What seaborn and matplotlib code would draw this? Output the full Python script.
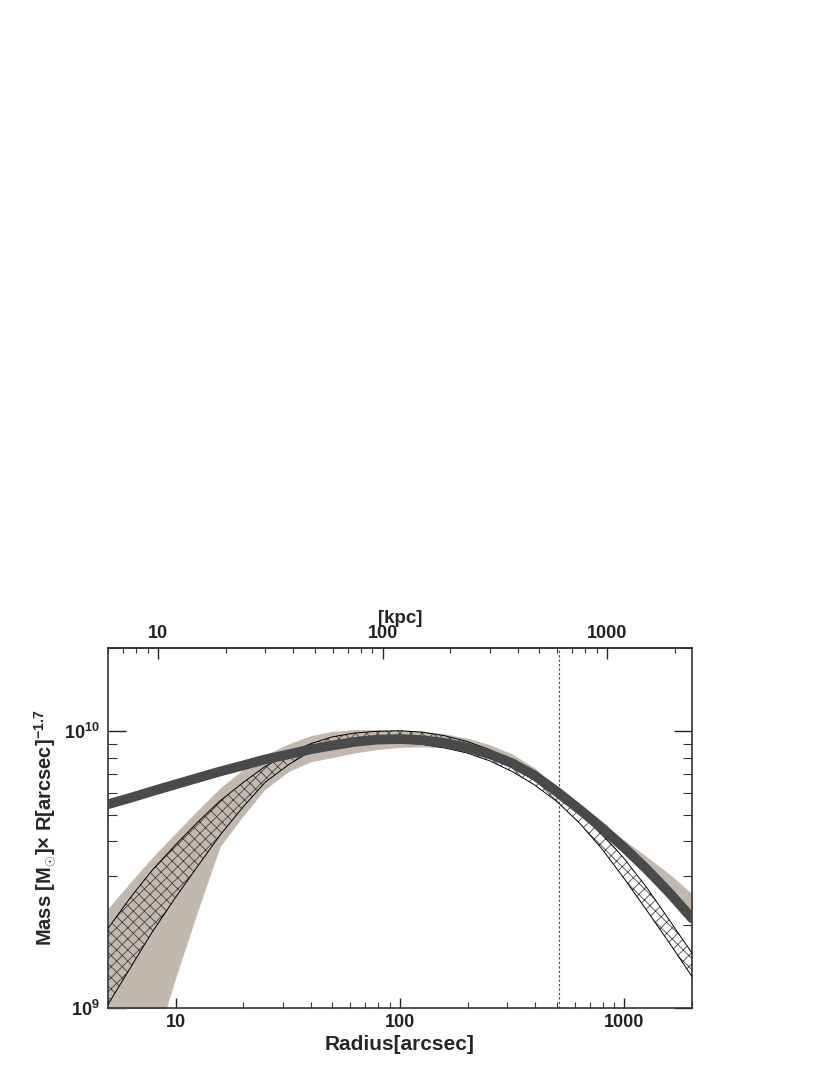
import numpy as np
import pandas as pd
import matplotlib
matplotlib.use("Agg")
import matplotlib.pyplot as plt
from matplotlib.ticker import FixedLocator, LogLocator, NullFormatter, FuncFormatter
import seaborn as sns

# ---------------- data ----------------
radius = [5, 6.3, 7.9, 10, 12.6, 15.8, 20, 25, 32, 40, 50, 63, 79, 100, 126, 158, 200,
          251, 316, 398, 501, 631, 794, 1000, 1259, 1585, 2000]
model = [5.45e9, 5.75e9, 6.08e9, 6.43e9, 6.79e9, 7.16e9, 7.53e9, 7.91e9, 8.26e9, 8.61e9,
         8.89e9, 9.16e9, 9.33e9, 9.38e9, 9.29e9, 9.08e9, 8.73e9, 8.26e9, 7.67e9, 6.92e9,
         6.05e9, 5.22e9, 4.48e9, 3.79e9, 3.17e9, 2.61e9, 2.11e9]
band_hi = [2.29e9, 2.85e9, 3.51e9, 4.29e9, 5.20e9, 6.24e9, 7.28e9, 8.22e9, 9.02e9, 9.64e9,
           1.0e10, 1.014e10, 1.014e10, 1.009e10, 1.0e10, 9.79e9, 9.44e9, 8.95e9, 8.28e9,
           7.38e9, 6.24e9, 5.37e9, 4.65e9, 4.04e9, 3.52e9, 3.05e9, 2.59e9]
band_lo = [2.24e8, 3.98e8, 6.92e8, 1.28e9, 2.26e9, 3.83e9, 4.94e9, 6.17e9, 7.16e9, 7.76e9,
           8.04e9, 8.36e9, 8.59e9, 8.75e9, 8.79e9, 8.71e9, 8.47e9, 8.04e9, 7.41e9, 6.65e9,
           5.70e9, 4.99e9, 4.31e9, 3.65e9, 3.14e9, 2.69e9, 2.21e9]
hatch_hi = [1.94e9, 2.51e9, 3.16e9, 3.89e9, 4.71e9, 5.61e9, 6.53e9, 7.45e9, 8.32e9, 9.02e9,
            9.55e9, 9.86e9, 1.0e10, 1.005e10, 9.93e9, 9.64e9, 9.18e9, 8.59e9, 7.82e9, 6.87e9,
            5.86e9, 5.05e9, 4.26e9, 3.46e9, 2.72e9, 2.08e9, 1.58e9]
hatch_lo = [1.03e9, 1.40e9, 1.89e9, 2.51e9, 3.27e9, 4.22e9, 5.33e9, 6.53e9, 7.59e9, 8.47e9,
            8.91e9, 9.10e9, 9.16e9, 9.12e9, 8.97e9, 8.71e9, 8.34e9, 7.82e9, 7.16e9, 6.40e9,
            5.57e9, 4.66e9, 3.76e9, 2.93e9, 2.25e9, 1.72e9, 1.30e9]
x_ticks = [10, 100, 1000]
kpc_ticks = [10, 100, 1000]
y_ticks = [1e9, 1e10]
kpc_per_arcsec = 1.195
r_marker = 512

df = pd.DataFrame({"radius": radius, "model": model, "hatch_hi": hatch_hi, "hatch_lo": hatch_lo})

# ---------------- style ----------------
sns.set_theme(style="white")
plt.rcParams["font.family"] = ["Liberation Sans", "DejaVu Sans"]
plt.rcParams["font.weight"] = "bold"
plt.rcParams["mathtext.fontset"] = "custom"
plt.rcParams["mathtext.rm"] = "Liberation Sans:bold"
plt.rcParams["mathtext.it"] = "Liberation Sans:bold"
plt.rcParams["mathtext.bf"] = "Liberation Sans:bold"
plt.rcParams["hatch.linewidth"] = 0.55
plt.rcParams["axes.edgecolor"] = "#333333"
plt.rcParams["axes.linewidth"] = 1.2

fig = plt.figure(figsize=(8.3, 10.75), dpi=100)
ax = fig.add_axes([0.1301, 0.0623, 0.7036, 0.3349])
ax.set_xscale("log")
ax.set_yscale("log")

tan = "#c2b8ad"
ax.fill_between(radius, band_lo, band_hi, color=tan, linewidth=0, zorder=1)
ax.fill_between(radius, hatch_lo, hatch_hi, facecolor="none", edgecolor="#3a3a3a",
                hatch="xxx", linewidth=0, zorder=2)
sns.lineplot(data=df, x="radius", y="hatch_hi", color="black", linewidth=0.7, ax=ax, zorder=3)
sns.lineplot(data=df, x="radius", y="hatch_lo", color="black", linewidth=0.7, ax=ax, zorder=3)
sns.lineplot(data=df, x="radius", y="model", color="#4a4a4a", linewidth=7,
             solid_joinstyle="round", ax=ax, zorder=4)
ax.axvline(r_marker, color="#444444", linewidth=0.8, linestyle=(0, (2, 2)), zorder=5)

ax.set_xlim(5, 2000)
ax.set_ylim(1e9, 2e10)

# x (arcsec) axis
ax.xaxis.set_major_locator(FixedLocator(x_ticks))
ax.xaxis.set_major_formatter(FuncFormatter(lambda v, p: f"{v:g}"))
ax.xaxis.set_minor_locator(LogLocator(base=10, subs=np.arange(2, 10)))
ax.xaxis.set_minor_formatter(NullFormatter())
ax.tick_params(axis="x", which="major", direction="in", length=7.2, width=1.0,
               bottom=True, top=False, labelsize=13, pad=4, colors="#222222")
ax.tick_params(axis="x", which="minor", direction="in", length=4.3, width=0.8,
               bottom=True, top=False, colors="#333333")

# y axis
ax.yaxis.set_major_locator(FixedLocator(y_ticks))
ax.yaxis.set_major_formatter(FuncFormatter(lambda v, p: r"$10^{%d}$" % round(np.log10(v))))
ax.yaxis.set_minor_locator(LogLocator(base=10, subs=np.arange(2, 10)))
ax.yaxis.set_minor_formatter(NullFormatter())
ax.tick_params(axis="y", which="major", direction="in", length=13, width=1.0,
               left=True, right=True, labelsize=13, pad=6, colors="#222222")
ax.tick_params(axis="y", which="minor", direction="in", length=6.5, width=0.8,
               left=True, right=True, colors="#333333")

# top (kpc) axis
secax = ax.secondary_xaxis("top", functions=(lambda x: x * kpc_per_arcsec,
                                             lambda x: x / kpc_per_arcsec))
secax.xaxis.set_major_locator(FixedLocator(kpc_ticks))
secax.xaxis.set_major_formatter(FuncFormatter(lambda v, p: f"{v:g}"))
secax.xaxis.set_minor_locator(LogLocator(base=10, subs=np.arange(2, 10)))
secax.xaxis.set_minor_formatter(NullFormatter())
secax.tick_params(axis="x", which="major", direction="in", length=8, width=1.0,
                  labelsize=13, pad=4, colors="#222222")
secax.tick_params(axis="x", which="minor", direction="in", length=3.8, width=0.8,
                  colors="#333333")
secax.set_xlabel("[kpc]", fontsize=13.5, fontweight="bold", labelpad=2)

for s in ax.spines.values():
    s.set_linewidth(1.2)
    s.set_color("#333333")

ax.set_xlabel("Radius[arcsec]", fontsize=15, fontweight="bold", labelpad=3)
ax.set_ylabel(r"Mass [M$_{\odot}$]$\times$ R[arcsec]$^{-1.7}$", fontsize=14.5, fontweight="bold")
ax.yaxis.set_label_coords(-0.085, 0.5)

fig.savefig("out.png", dpi=100)
